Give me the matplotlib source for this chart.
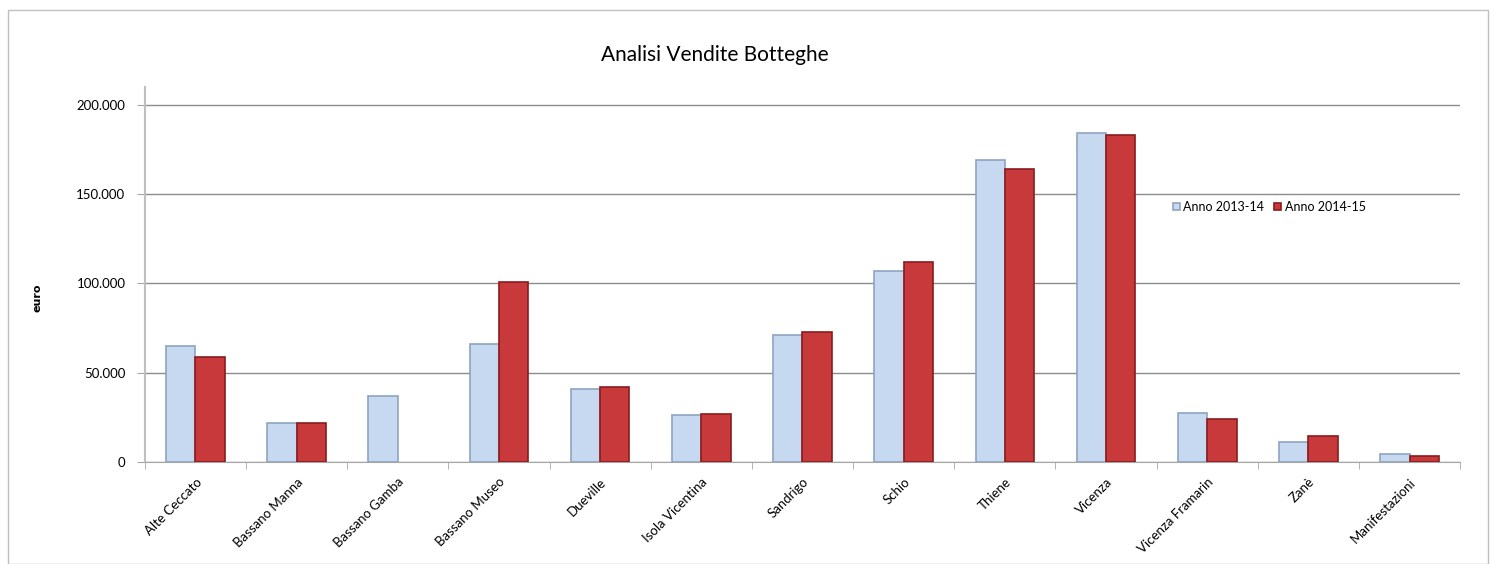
import matplotlib.pyplot as plt
import matplotlib.patches as mpatches
import numpy as np

botteghe = ['Alte Ceccato', 'Bassano Manna', 'Bassano Gamba', 'Bassano Museo', 'Dueville',
            'Isola Vicentina', 'Sandrigo', 'Schio', 'Thiene', 'Vicenza',
            'Vicenza Framarin', 'Zanè', 'Manifestazioni']
anno_2013_14 = [65000, 22000, 37000, 66000, 41000, 26000, 71000, 107000, 169000, 184000, 27500, 11000, 4500]
anno_2014_15 = [59000, 22000, 0, 100500, 42000, 27000, 73000, 112000, 164000, 183000, 24000, 14500, 3500]
y_ticks = [0, 50000, 100000, 150000, 200000]
y_labels = ['0', '50.000', '100.000', '150.000', '200.000']

font = ['Lato', 'DejaVu Sans']

fig = plt.figure(figsize=(14.93, 5.64), dpi=100)
fig.patches.append(mpatches.Rectangle((8 / 1493, 0), 1480 / 1493, 554 / 564, transform=fig.transFigure,
                                      fill=False, edgecolor='#bfbfbf', linewidth=1))
ax = fig.add_axes([0.097, 0.181, 0.881, 0.665])

x = np.arange(len(botteghe))
w = 0.29
# barre a zero non disegnate (come in Excel)
h1 = [v if v else np.nan for v in anno_2013_14]
h2 = [v if v else np.nan for v in anno_2014_15]
ax.bar(x - w / 2, h1, w, color='#c6d9f1', edgecolor='#8da4c0', linewidth=1.2,
       label='Anno 2013-14', zorder=3)
ax.bar(x + w / 2, h2, w, color='#c8393b', edgecolor='#8a1c1e', linewidth=1.2,
       label='Anno 2014-15', zorder=3)

ax.set_xlim(-0.5, len(botteghe) - 0.5)
ax.set_ylim(0, 210000)
ax.set_yticks(y_ticks)
ax.set_yticklabels(y_labels, fontsize=9.5, family=font)
ax.yaxis.grid(True, color='#8c8c8c', linewidth=1)
ax.set_axisbelow(True)

ax.set_xticks(x)
ax.set_xticklabels(botteghe, rotation=45, ha='right', rotation_mode='anchor', fontsize=9.5, family=font)
ax.tick_params(axis='x', length=0, pad=10)
ax.set_xticks(np.arange(-0.5, len(botteghe), 1), minor=True)
ax.tick_params(axis='x', which='minor', length=5, color='#a6a6a6', direction='out')
ax.tick_params(axis='y', length=6, color='#a6a6a6', direction='out', pad=8)

for s in ['top', 'right']:
    ax.spines[s].set_visible(False)
ax.spines['left'].set_color('#bfbfbf')
ax.spines['left'].set_linewidth(1.5)
ax.spines['bottom'].set_color('#a6a6a6')

ax.set_ylabel('euro', fontsize=8, fontweight='bold', family='DejaVu Sans')
ax.yaxis.set_label_coords(-0.078, 0.437)

fig.text(0.479, 0.902, 'Analisi Vendite Botteghe', ha='center', va='center', fontsize=15, family=font)

ax.legend(loc='center left', bbox_to_anchor=(0.773, 0.68), ncol=2, frameon=False, handlelength=0.55,
          handleheight=0.55, handletextpad=0.3, columnspacing=0.8, prop={'family': font, 'size': 9})

fig.savefig('out.png', dpi=100)
